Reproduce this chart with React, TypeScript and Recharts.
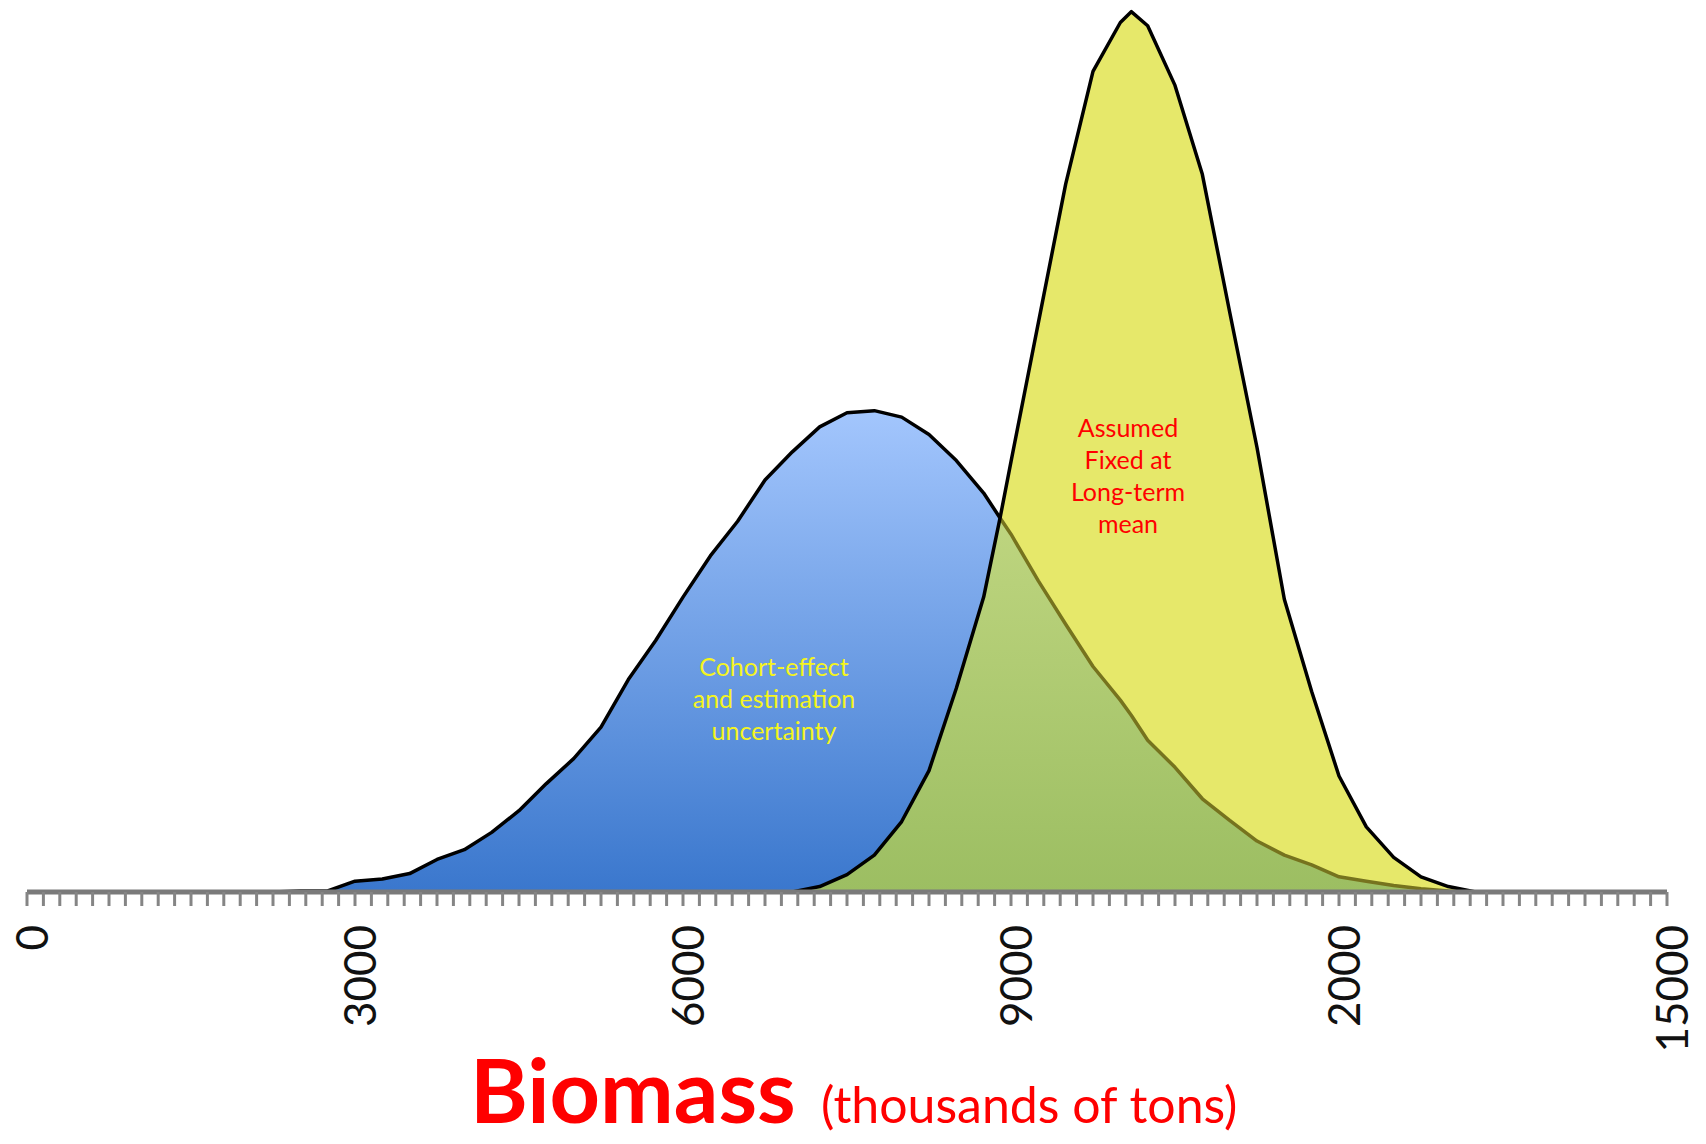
import React from "react";
import { ComposedChart, Area, Line, XAxis, YAxis } from "recharts";

// biomass grid (thousands of tons) and the two density curves
const biomass = [
  2250, 2500, 2750, 3000, 3250, 3500, 3750, 4000, 4250, 4500, 4750, 5000, 5250, 5500, 5750, 6000,
  6250, 6500, 6750, 7000, 7250, 7500, 7750, 8000, 8250, 8500, 8750, 8900, 9000, 9250, 9500, 9750,
  10000, 10100, 10250, 10500, 10750, 11000, 11250, 11500, 11750, 12000, 12250, 12500, 12750, 13000, 13250,
];

const cohortDensity = [
  0, 1, 1, 10, 12, 17, 30, 39, 55, 75, 100, 123, 152, 196, 232, 272,
  310, 342, 380, 406, 429, 442, 444, 438, 422, 398, 368, 345, 330, 287, 247, 208,
  177, 163, 140, 115, 86, 66, 47, 34, 25, 14, 10, 6, 3, 1, 0,
];

const fixedDensity = [
  null, null, null, null, null, null, null, null, null, null, null, null, null, null, null, null,
  null, null, null, 0, 5, 16, 34, 65, 112, 188, 272, 345, 397, 525, 653, 757,
  802, 812, 799, 744, 662, 535, 410, 270, 185, 107, 60, 32, 14, 5, 0,
];

// where the blue outline dips under the yellow curve
const crossAt = 8900;

const labelTicks = [0, 3000, 6000, 9000, 12000, 15000];
const labelTexts = ["0", "3000", "6000", "9000", "2000", "15000"];
const minorTicks = Array.from({ length: 101 }, (_, i) => i * 150);

const cohortNote = ["Cohort-effect", "and estimation", "uncertainty"];
const fixedNote = ["Assumed", "Fixed at", "Long-term", "mean"];

const FONT = "Lato, 'Open Sans', sans-serif";

const rows = biomass.map((x, i) => {
  const b = cohortDensity[i];
  const y = fixedDensity[i];
  return {
    x,
    blue: b,
    yellow: y,
    overlap: b != null && y != null ? Math.min(b, y) : null,
    blueOut: x <= crossAt ? b : null,
    blueIn: x >= crossAt ? b : null,
  };
});

function BiomassTick(props: any) {
  const { x, y, payload } = props;
  const i = labelTicks.indexOf(payload.value);
  if (i < 0) return <g />;
  const tx = x + 4;
  const ty = y + 17;
  return (
    <text
      x={tx}
      y={ty}
      transform={`rotate(-90, ${tx}, ${ty})`}
      textAnchor="end"
      dominantBaseline="central"
      fontFamily={FONT}
      fontSize={44}
      fill="#111"
    >
      {labelTexts[i]}
    </text>
  );
}

export default function App() {
  return (
    <div style={{ position: "absolute", left: 0, top: 0, width: 1706, height: 1144, background: "#fff" }}>
      <ComposedChart
        width={1706}
        height={1144}
        data={rows}
        margin={{ top: 3, right: 39, left: 27, bottom: 222 }}
      >
        <defs>
          <linearGradient id="blueFill" x1="0" y1="0" x2="0" y2="1">
            <stop offset="0%" stopColor="#a3c6fd" />
            <stop offset="100%" stopColor="#3a77cd" />
          </linearGradient>
          <linearGradient id="greenFill" x1="0" y1="0" x2="0" y2="1">
            <stop offset="0%" stopColor="#bed57f" />
            <stop offset="100%" stopColor="#9cbe62" />
          </linearGradient>
        </defs>
        <XAxis
          dataKey="x"
          type="number"
          domain={[0, 15000]}
          ticks={minorTicks}
          interval={0}
          height={30}
          tickSize={14}
          tickLine={{ stroke: "#858585", strokeWidth: 3 }}
          axisLine={{ stroke: "#7a7a7a", strokeWidth: 5 }}
          tick={<BiomassTick />}
        />
        <YAxis hide domain={[0, 820]} allowDataOverflow />
        <Area
          type="linear"
          dataKey="blue"
          stroke="none"
          fill="url(#blueFill)"
          fillOpacity={1}
          isAnimationActive={false}
        />
        <Area
          type="linear"
          dataKey="yellow"
          stroke="none"
          fill="#e6e86a"
          fillOpacity={1}
          isAnimationActive={false}
        />
        <Area
          type="linear"
          dataKey="overlap"
          stroke="none"
          fill="url(#greenFill)"
          fillOpacity={1}
          isAnimationActive={false}
        />
        <Line
          type="linear"
          dataKey="blueIn"
          stroke="#76731e"
          strokeWidth={3.5}
          dot={false}
          strokeLinejoin="round"
          isAnimationActive={false}
        />
        <Line
          type="linear"
          dataKey="blueOut"
          stroke="#000"
          strokeWidth={3.5}
          dot={false}
          strokeLinejoin="round"
          isAnimationActive={false}
        />
        <Line
          type="linear"
          dataKey="yellow"
          stroke="#000"
          strokeWidth={3.5}
          dot={false}
          strokeLinejoin="round"
          isAnimationActive={false}
        />
      </ComposedChart>
      <svg
        width={1706}
        height={1144}
        style={{ position: "absolute", left: 0, top: 0, pointerEvents: "none" }}
      >
        <text textAnchor="middle" fontFamily={FONT} fontSize={25} fill="#f4f41e">
          {cohortNote.map((t, i) => (
            <tspan key={t} x={774} y={676 + i * 32}>
              {t}
            </tspan>
          ))}
        </text>
        <text textAnchor="middle" fontFamily={FONT} fontSize={25} fill="#ff0000">
          {fixedNote.map((t, i) => (
            <tspan key={t} x={1128} y={437 + i * 32}>
              {t}
            </tspan>
          ))}
        </text>
        <text x={470} y={1123} fontFamily={FONT} fontSize={88} fontWeight={700} fill="#ff0000">
          Biomass
        </text>
        <text x={821} y={1123} fontFamily={FONT} fontSize={50} fill="#ff0000">
          (thousands of tons)
        </text>
      </svg>
    </div>
  );
}
